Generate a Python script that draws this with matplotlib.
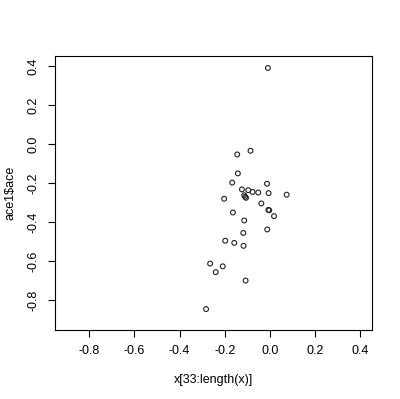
import numpy as np
import matplotlib.pyplot as plt

plt.rcParams['font.family'] = ['Liberation Sans', 'DejaVu Sans']

# x[33:length(x)] and ace1$ace
x = [-0.009, -0.145, -0.086, -0.142, -0.167, -0.013, -0.124, -0.096, -0.077,
     -0.052, -0.006, 0.074, -0.114, -0.110, -0.106, -0.203, -0.038, -0.007,
     -0.003, -0.164, 0.018, -0.114, -0.118, -0.012, -0.198, -0.158, -0.117,
     -0.265, -0.209, -0.240, -0.108, -0.283]
ace = [0.390, -0.053, -0.034, -0.150, -0.197, -0.203, -0.232, -0.236, -0.245,
       -0.248, -0.251, -0.259, -0.262, -0.270, -0.275, -0.280, -0.304, -0.337,
       -0.339, -0.350, -0.369, -0.391, -0.455, -0.437, -0.495, -0.506, -0.521,
       -0.612, -0.626, -0.656, -0.699, -0.845]

ticks = [-0.8, -0.6, -0.4, -0.2, 0.0, 0.2, 0.4]

fig = plt.figure(figsize=(4, 3.99), dpi=100)
ax = fig.add_axes([0.1375, 0.173, 0.7925, 0.687])
ax.scatter(x, ace, s=12, facecolors='none', edgecolors='#222222', linewidths=0.8)

lo, hi = -0.9, 0.4
pad = (hi - lo) * 0.04
ax.set_xlim(lo - pad, hi + pad)
ax.set_ylim(lo - pad, hi + pad)
ax.set_xticks(ticks)
ax.set_yticks(ticks)
ax.set_xticklabels(["%.1f" % t for t in ticks])
ax.set_yticklabels(["%.1f" % t for t in ticks], rotation=90, va='center')
ax.tick_params(direction='out', length=5, width=0.8, labelsize=9, pad=6)
for s in ax.spines.values():
    s.set_linewidth(0.8)

ax.set_xlabel("x[33:length(x)]", fontsize=9, labelpad=12)
ax.set_ylabel(r"ace1\$ace", fontsize=9, labelpad=8)

plt.savefig("out.png", dpi=100)
